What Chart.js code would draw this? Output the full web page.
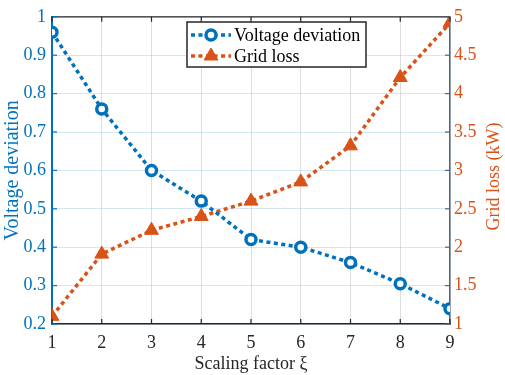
<!DOCTYPE html>
<html>
<head>
<meta charset="utf-8">
<script src="https://cdn.jsdelivr.net/npm/chart.js"></script>
<style>
  html, body { margin: 0; padding: 0; background: #fff; }
  #wrap { width: 505px; height: 375px; }
</style>
</head>
<body>
<div id="wrap"><canvas id="chart" width="505" height="375"></canvas></div>
<script>
// data
const scalingFactor = [1, 2, 3, 4, 5, 6, 7, 8, 9];
const voltageDeviation = [0.96, 0.76, 0.60, 0.52, 0.42, 0.40, 0.36, 0.305, 0.24];
const gridLoss = [1.10, 1.91, 2.22, 2.40, 2.60, 2.85, 3.32, 4.21, 4.92];

const blue = '#0072BD';
const orange = '#D95319';
const rightAxisColor = '#52627f';
const serif = "'Liberation Serif', 'Times New Roman', serif";

// MATLAB style inward ticks, box top line, right label and legend inside the axes
const matlabAxes = {
    id: 'matlabAxes',
    afterDraw(chart) {
        const ctx = chart.ctx;
        const area = chart.chartArea;
        const sx = chart.scales.x, sy = chart.scales.y, sy2 = chart.scales.y2;
        const len = 5;
        ctx.save();
        ctx.lineWidth = 1.2;

        ctx.strokeStyle = '#262626';
        ctx.beginPath();
        ctx.moveTo(area.left, area.top);
        ctx.lineTo(area.right, area.top);
        ctx.stroke();
        sx.ticks.forEach((t, i) => {
            const px = sx.getPixelForTick(i);
            ctx.beginPath();
            ctx.moveTo(px, area.bottom);
            ctx.lineTo(px, area.bottom - len);
            ctx.moveTo(px, area.top);
            ctx.lineTo(px, area.top + len);
            ctx.stroke();
        });

        ctx.strokeStyle = blue;
        sy.ticks.forEach((t, i) => {
            const py = sy.getPixelForTick(i);
            ctx.beginPath();
            ctx.moveTo(area.left, py);
            ctx.lineTo(area.left + len, py);
            ctx.stroke();
        });

        ctx.strokeStyle = rightAxisColor;
        sy2.ticks.forEach((t, i) => {
            const py = sy2.getPixelForTick(i);
            ctx.beginPath();
            ctx.moveTo(area.right, py);
            ctx.lineTo(area.right - len, py);
            ctx.stroke();
        });

        // right axis title reads bottom to top, like the left one
        ctx.save();
        ctx.translate(sy2.right - 11, (area.top + area.bottom) / 2 + 6);
        ctx.rotate(-Math.PI / 2);
        ctx.fillStyle = orange;
        ctx.font = '18px ' + serif;
        ctx.textAlign = 'center';
        ctx.textBaseline = 'middle';
        ctx.fillText('Grid loss (kW)', 0, 0);
        ctx.restore();

        // legend
        const bx = 187, by = 22, bw = 179, bh = 45;
        ctx.fillStyle = '#fff';
        ctx.fillRect(bx, by, bw, bh);
        ctx.strokeStyle = '#262626';
        ctx.lineWidth = 1.5;
        ctx.strokeRect(bx, by, bw, bh);
        ctx.font = '18px ' + serif;
        ctx.textBaseline = 'middle';
        chart.data.datasets.forEach((ds, i) => {
            const y = by + 13 + i * 21;
            ctx.strokeStyle = ds.borderColor;
            ctx.lineWidth = ds.borderWidth;
            ctx.setLineDash(ds.borderDash);
            ctx.beginPath();
            ctx.moveTo(bx + 4, y);
            ctx.lineTo(bx + 44, y);
            ctx.stroke();
            ctx.setLineDash([]);
            const mx = bx + 24;
            const r = ds.pointRadius;
            ctx.beginPath();
            if (ds.pointStyle === 'triangle') {
                ctx.moveTo(mx, y - r);
                ctx.lineTo(mx + r * Math.sin(Math.PI / 3), y + r / 2);
                ctx.lineTo(mx - r * Math.sin(Math.PI / 3), y + r / 2);
                ctx.closePath();
            } else {
                ctx.arc(mx, y, r, 0, Math.PI * 2);
            }
            ctx.fillStyle = ds.pointBackgroundColor;
            ctx.fill();
            ctx.lineWidth = ds.pointBorderWidth;
            ctx.strokeStyle = ds.pointBorderColor;
            ctx.stroke();
            ctx.fillStyle = '#000';
            ctx.fillText(ds.label, bx + 47, y + 1);
        });
        ctx.restore();
    }
};

new Chart(document.getElementById('chart'), {
    type: 'line',
    data: {
        datasets: [{
            label: 'Voltage deviation',
            yAxisID: 'y',
            data: scalingFactor.map((x, i) => ({ x: x, y: voltageDeviation[i] })),
            borderColor: blue,
            borderWidth: 3.5,
            borderDash: [4, 3.5],
            pointStyle: 'circle',
            pointRadius: 5,
            pointBorderWidth: 3.5,
            pointBackgroundColor: '#fff',
            pointBorderColor: blue,
            tension: 0
        }, {
            label: 'Grid loss',
            yAxisID: 'y2',
            data: scalingFactor.map((x, i) => ({ x: x, y: gridLoss[i] })),
            borderColor: orange,
            borderWidth: 3.5,
            borderDash: [4, 3.5],
            pointStyle: 'triangle',
            pointRadius: 8,
            pointBorderWidth: 1,
            pointBackgroundColor: orange,
            pointBorderColor: orange,
            tension: 0
        }]
    },
    options: {
        responsive: false,
        animation: false,
        layout: { padding: { top: 6, left: 0, right: 0, bottom: 0 } },
        plugins: {
            legend: { display: false },
            tooltip: { enabled: false }
        },
        scales: {
            x: {
                type: 'linear',
                min: 1,
                max: 9,
                afterFit: s => { s.height = 51; },
                ticks: { stepSize: 1, padding: 8, color: '#262626', font: { family: serif, size: 18 } },
                grid: { color: 'rgba(0,0,0,0.13)', lineWidth: 1, drawTicks: false },
                border: { color: '#262626', width: 1.5 },
                title: { display: true, text: 'Scaling factor ξ', color: '#262626', padding: 0, font: { family: serif, size: 18 } }
            },
            y: {
                position: 'left',
                min: 0.2,
                max: 1,
                afterFit: s => { s.width = 52; },
                ticks: {
                    stepSize: 0.1,
                    padding: 6,
                    color: blue,
                    font: { family: serif, size: 18 },
                    callback: v => Math.abs(v - 1) < 1e-9 ? '1' : v.toFixed(1)
                },
                grid: { color: 'rgba(0,114,189,0.17)', lineWidth: 1, drawTicks: false },
                border: { color: blue, width: 2 },
                title: { display: true, text: 'Voltage deviation', color: blue, padding: { top: 1, bottom: 0 }, font: { family: serif, size: 20 } }
            },
            y2: {
                position: 'right',
                min: 1,
                max: 5,
                afterFit: s => { s.width = 55; },
                ticks: {
                    stepSize: 0.5,
                    padding: 4,
                    color: orange,
                    font: { family: serif, size: 18 },
                    callback: v => String(v)
                },
                grid: { drawOnChartArea: false, drawTicks: false },
                border: { color: rightAxisColor, width: 1.5 },
                title: { display: false }
            }
        }
    },
    plugins: [matlabAxes]
});
</script>
</body>
</html>
